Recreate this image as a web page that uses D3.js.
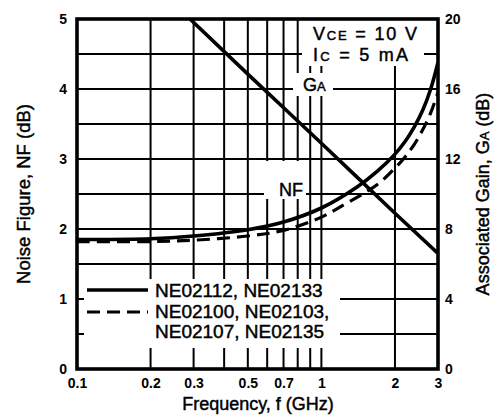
<!DOCTYPE html>
<html><head><meta charset="utf-8">
<script src="https://cdn.jsdelivr.net/npm/d3@7"></script>
<style>body{margin:0;background:#fff}svg{display:block}</style>
</head><body><svg id="c" width="497" height="418"></svg>
<script>
// ---- data ----
const nfTicks = [0, 1, 2, 3, 4, 5];
const gaTicks = [0, 4, 8, 12, 16, 20];
const freqTicks = [0.1, 0.2, 0.3, 0.5, 0.7, 1, 2, 3];
const freqTickLabels = ["0.1", "0.2", "0.3", "0.5", "0.7", "1", "2", "3"];
const freqGrid = [0.2, 0.3, 0.4, 0.5, 0.6, 0.7, 0.8, 0.9, 1, 2];
const nfGrid = [0.5, 1, 1.5, 2, 2.5, 3, 3.5, 4, 4.5];

// NE02112, NE02133 (solid) noise figure
const freqSolid = [0.1, 0.2, 0.3, 0.5, 0.7, 1.0, 1.4, 1.7, 2.0, 2.2, 2.4, 2.6, 2.8, 3.0];
const nfSolid   = [1.85, 1.86, 1.9, 1.99, 2.1, 2.3, 2.6, 2.83, 3.07, 3.25, 3.46, 3.7, 4.0, 4.38];
// NE02100, NE02103, NE02107, NE02135 (dashed) noise figure
const freqDashed = [0.1, 0.2, 0.3, 0.5, 0.7, 1.0, 1.2, 1.7, 2.0, 2.2, 2.4, 2.6, 2.8, 3.0];
const nfDashed   = [1.82, 1.82, 1.84, 1.9, 1.98, 2.17, 2.32, 2.64, 2.87, 3.03, 3.21, 3.42, 3.66, 3.95];
// associated gain
const freqGain = [0.29, 0.5, 1.0, 2.0, 3.0];
const gainGA   = [20, 16.85, 12.9, 8.9, 6.6];

const legendLabels = [["NE02112, NE02133"], ["NE02100, NE02103,", "NE02107, NE02135"]];

// ---- layout ----
const L = 77, R = 438, T = 19, B = 369;
const FONT = "'Liberation Sans', Arial, Helvetica, sans-serif";
const svg = d3.select("#c");
const x = d3.scaleLog().domain([0.1, 3]).range([L, R]);
const yNF = d3.scaleLinear().domain([0, 5]).range([B, T]);
const yGA = d3.scaleLinear().domain([0, 20]).range([B, T]);

// grid
const g = svg.append("g").attr("stroke", "#000").attr("stroke-width", 2);
g.selectAll(".vg").data(freqGrid).join("line")
  .attr("x1", d => x(d)).attr("x2", d => x(d)).attr("y1", T).attr("y2", B);
g.selectAll(".hg").data(nfGrid).join("line")
  .attr("y1", d => yNF(d)).attr("y2", d => yNF(d)).attr("x1", L).attr("x2", R);

// white label boxes breaking the grid
const boxes = [
  [302, 20, 424, 66],   // conditions
  [293, 73, 333, 96],   // GA label
  [264, 161, 306, 199], // NF label
  [84, 279, 340, 348]   // legend
];
svg.append("g").selectAll("rect").data(boxes).join("rect")
  .attr("x", d => d[0]).attr("y", d => d[1])
  .attr("width", d => d[2] - d[0]).attr("height", d => d[3] - d[1])
  .attr("fill", "#fff");

// clip
svg.append("clipPath").attr("id", "clip").append("rect")
  .attr("x", L).attr("y", T).attr("width", R - L).attr("height", B - T);

const lineNF = d3.line().x(d => x(d[0])).y(d => yNF(d[1])).curve(d3.curveCatmullRom.alpha(0.5));
const lineGA = d3.line().x(d => x(d[0])).y(d => yGA(d[1])).curve(d3.curveMonotoneX);
const curves = svg.append("g").attr("clip-path", "url(#clip)").attr("fill", "none").attr("stroke", "#000");
curves.append("path").datum(freqGain.map((f, i) => [f, gainGA[i]]))
  .attr("d", lineGA).attr("stroke-width", 3.6);
curves.append("path").datum(freqSolid.map((f, i) => [f, nfSolid[i]]))
  .attr("d", lineNF).attr("stroke-width", 3.6);
curves.append("path").datum(freqDashed.map((f, i) => [f, nfDashed[i]]))
  .attr("d", lineNF).attr("stroke-width", 3.2).attr("stroke-dasharray", "13,7");

// border
svg.append("rect").attr("x", L).attr("y", T).attr("width", R - L).attr("height", B - T)
  .attr("fill", "none").attr("stroke", "#000").attr("stroke-width", 3.6);

// axes (labels only)
function styleAxis(sel) {
  sel.select(".domain").remove();
  sel.selectAll("text").attr("font-family", FONT).attr("font-size", 14)
    .attr("font-weight", "bold").attr("fill", "#000");
}
svg.append("g").attr("transform", `translate(${L},0)`)
  .call(d3.axisLeft(yNF).tickValues(nfTicks).tickSize(0).tickPadding(10).tickFormat(d3.format("d")))
  .call(styleAxis);
svg.append("g").attr("transform", `translate(${R},0)`)
  .call(d3.axisRight(yGA).tickValues(gaTicks).tickSize(0).tickPadding(7).tickFormat(d3.format("d")))
  .call(styleAxis);
svg.append("g").attr("transform", `translate(0,${B})`)
  .call(d3.axisBottom(x).tickValues(freqTicks).tickSize(0).tickPadding(9)
    .tickFormat((d, i) => freqTickLabels[freqTicks.indexOf(d)]))
  .call(styleAxis);

// axis titles
const txt = (xx, yy, size) => svg.append("text").attr("x", xx).attr("y", yy)
  .attr("font-family", FONT).attr("font-size", size).attr("fill", "#000")
  .attr("stroke", "#000").attr("stroke-width", 0.45);
txt(258, 410, 18).attr("text-anchor", "middle").text("Frequency, f (GHz)");
const lt = svg.append("text").attr("transform", `translate(30,${(T + B) / 2}) rotate(-90)`)
  .attr("text-anchor", "middle").attr("font-family", FONT).attr("font-size", 18.5)
  .attr("stroke", "#000").attr("stroke-width", 0.45);
lt.text("Noise Figure, NF (dB)");
const rt = svg.append("text").attr("transform", `translate(489,${(T + B) / 2}) rotate(-90)`)
  .attr("text-anchor", "middle").attr("font-family", FONT).attr("font-size", 18)
  .attr("stroke", "#000").attr("stroke-width", 0.45);
rt.append("tspan").text("Associated Gain, G");
rt.append("tspan").attr("font-size", 13).text("A");
rt.append("tspan").text(" (dB)");

// conditions
const c1 = txt(313, 40, 18).attr("textLength", 104).attr("lengthAdjust", "spacing");
c1.append("tspan").text("V");
c1.append("tspan").attr("font-size", 13).text("CE");
c1.append("tspan").text(" = 10 V");
const c2 = txt(313, 61, 18).attr("textLength", 95).attr("lengthAdjust", "spacing");
c2.append("tspan").text("I");
c2.append("tspan").attr("font-size", 13).text("C");
c2.append("tspan").text(" = 5 mA");

// curve labels
const ga = txt(303, 91, 18);
ga.append("tspan").text("G");
ga.append("tspan").attr("font-size", 13).text("A");
txt(279, 196, 18).text("NF");

// legend
const legend = svg.append("g");
legend.append("line").attr("x1", 87).attr("x2", 148).attr("y1", 290).attr("y2", 290)
  .attr("stroke", "#000").attr("stroke-width", 3.6);
legend.append("line").attr("x1", 87).attr("x2", 148).attr("y1", 312).attr("y2", 312)
  .attr("stroke", "#000").attr("stroke-width", 3.2).attr("stroke-dasharray", "13,7");
txt(155, 297, 19).text(legendLabels[0][0]);
txt(155, 318, 19).text(legendLabels[1][0]);
txt(155, 338, 19).text(legendLabels[1][1]);
</script></body></html>
